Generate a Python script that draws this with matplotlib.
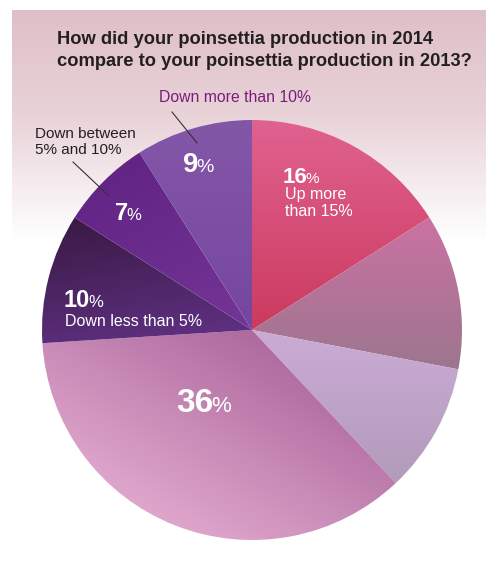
import numpy as np
import matplotlib.pyplot as plt
from matplotlib.colors import to_rgb

plt.rcParams['font.family'] = ['Liberation Sans', 'DejaVu Sans']

W, H = 501, 565

title_lines = ["How did your poinsettia production in 2014",
               "compare to your poinsettia production in 2013?"]
categories = ["Up more than 15%", "Up 5% to 15%", "Up less than 5%", "About the same",
              "Down less than 5%", "Down between 5% and 10%", "Down more than 10%"]
shares = [16, 12, 10, 36, 10, 7, 9]

# gradient colours per slice: (start, end, direction in degrees)
grad = [("#E0628F", "#CB3A5E", -90),
        ("#CB72A2", "#9C768E", -90),
        ("#CBABD6", "#B29BBA", -90),
        ("#AE6A9E", "#DFA6CC", -120),
        ("#3A1A44", "#5F3082", -80),
        ("#622585", "#743596", -60),
        ("#8357A8", "#7646A0", -90)]


def Y(y):
    return H - y


fig = plt.figure(figsize=(W / 100, H / 100), dpi=100)
ax = fig.add_axes([0, 0, 1, 1])

# pink band behind the title, fading to white
band = np.linspace(0, 1, 256)
top = np.array(to_rgb("#DFBFC7"))
mid = np.array(to_rgb("#E8D2D8"))
img = np.zeros((256, 1, 3))
for i, t in enumerate(band):
    if t < 0.45:
        c = top + (mid - top) * (t / 0.45)
    else:
        c = mid + (np.ones(3) - mid) * ((t - 0.45) / 0.55)
    img[i, 0] = c
ax.imshow(img, extent=[12, 486, Y(240), Y(10)], aspect='auto', zorder=0)

cx, cy, r = 252, Y(330), 210
wedges, _ = ax.pie(shares, startangle=90, counterclock=False, radius=r,
                   center=(cx, cy), frame=True)

n = 200
gx, gy = np.meshgrid(np.linspace(-1, 1, n), np.linspace(1, -1, n))
for w, (c0, c1, ang) in zip(wedges, grad):
    d = np.array([np.cos(np.radians(ang)), np.sin(np.radians(ang))])
    a, b = np.array(to_rgb(c0)), np.array(to_rgb(c1))
    # restrict gradient span to the wedge itself
    angs = np.linspace(np.radians(w.theta1), np.radians(w.theta2), 50)
    px = np.concatenate([[0], np.cos(angs)])
    py = np.concatenate([[0], np.sin(angs)])
    proj = px * d[0] + py * d[1]
    lo, hi = proj.min(), proj.max()
    tt = gx * d[0] + gy * d[1]
    tt = np.clip((tt - lo) / (hi - lo), 0, 1)
    im = a[None, None, :] + (b - a)[None, None, :] * tt[:, :, None]
    w.set_facecolor('none')
    w.set_edgecolor('none')
    art = ax.imshow(im, extent=[cx - r, cx + r, cy - r, cy + r], zorder=2)
    art.set_clip_path(w)

ax.set_xlim(0, W)
ax.set_ylim(0, H)
ax.set_aspect('auto')
ax.axis('off')

# title
ax.text(57, Y(39), title_lines[0], fontsize=13.2, fontweight='bold', color='#231F20',
        ha='left', va='center', zorder=5)
ax.text(57, Y(62), title_lines[1], fontsize=13.2, fontweight='bold', color='#231F20',
        ha='left', va='center', zorder=5)


def pct(x, y, num, big, small):
    ax.text(x, Y(y), num, fontsize=big, color='white', fontweight='bold',
            ha='right', va='baseline', zorder=5)
    ax.text(x - 1.5, Y(y), "%", fontsize=small, color='white',
            ha='left', va='baseline', zorder=5)


pct(307, 183, "16", 16, 11)
pct(198, 172, "9", 20, 14)
pct(128, 220, "7", 17, 12)
pct(90, 307, "10", 17, 12)
pct(213, 412, "36", 24, 16)

ax.text(285, Y(194), "Up more", fontsize=11.5, color='white',
        ha='left', va='center', zorder=5)
ax.text(285, Y(211), "than 15%", fontsize=11.5, color='white',
        ha='left', va='center', zorder=5)
ax.text(65, Y(321), "Down less than 5%", fontsize=11.5, color='white',
        ha='left', va='center', zorder=5)
ax.text(235, Y(98), "Down more than 10%", fontsize=11.3, color='#7A1C7C',
        ha='center', va='center', zorder=5)
ax.text(35, Y(134), "Down between", fontsize=11, color='#231F20',
        ha='left', va='center', zorder=5)
ax.text(35, Y(150), "5% and 10%", fontsize=11, color='#231F20',
        ha='left', va='center', zorder=5)

ax.plot([172, 197], [Y(112), Y(143)], color='#333333', lw=0.8, zorder=5)
ax.plot([73, 108], [Y(162), Y(195)], color='#333333', lw=0.8, zorder=5)

fig.savefig("out.png", dpi=100)
